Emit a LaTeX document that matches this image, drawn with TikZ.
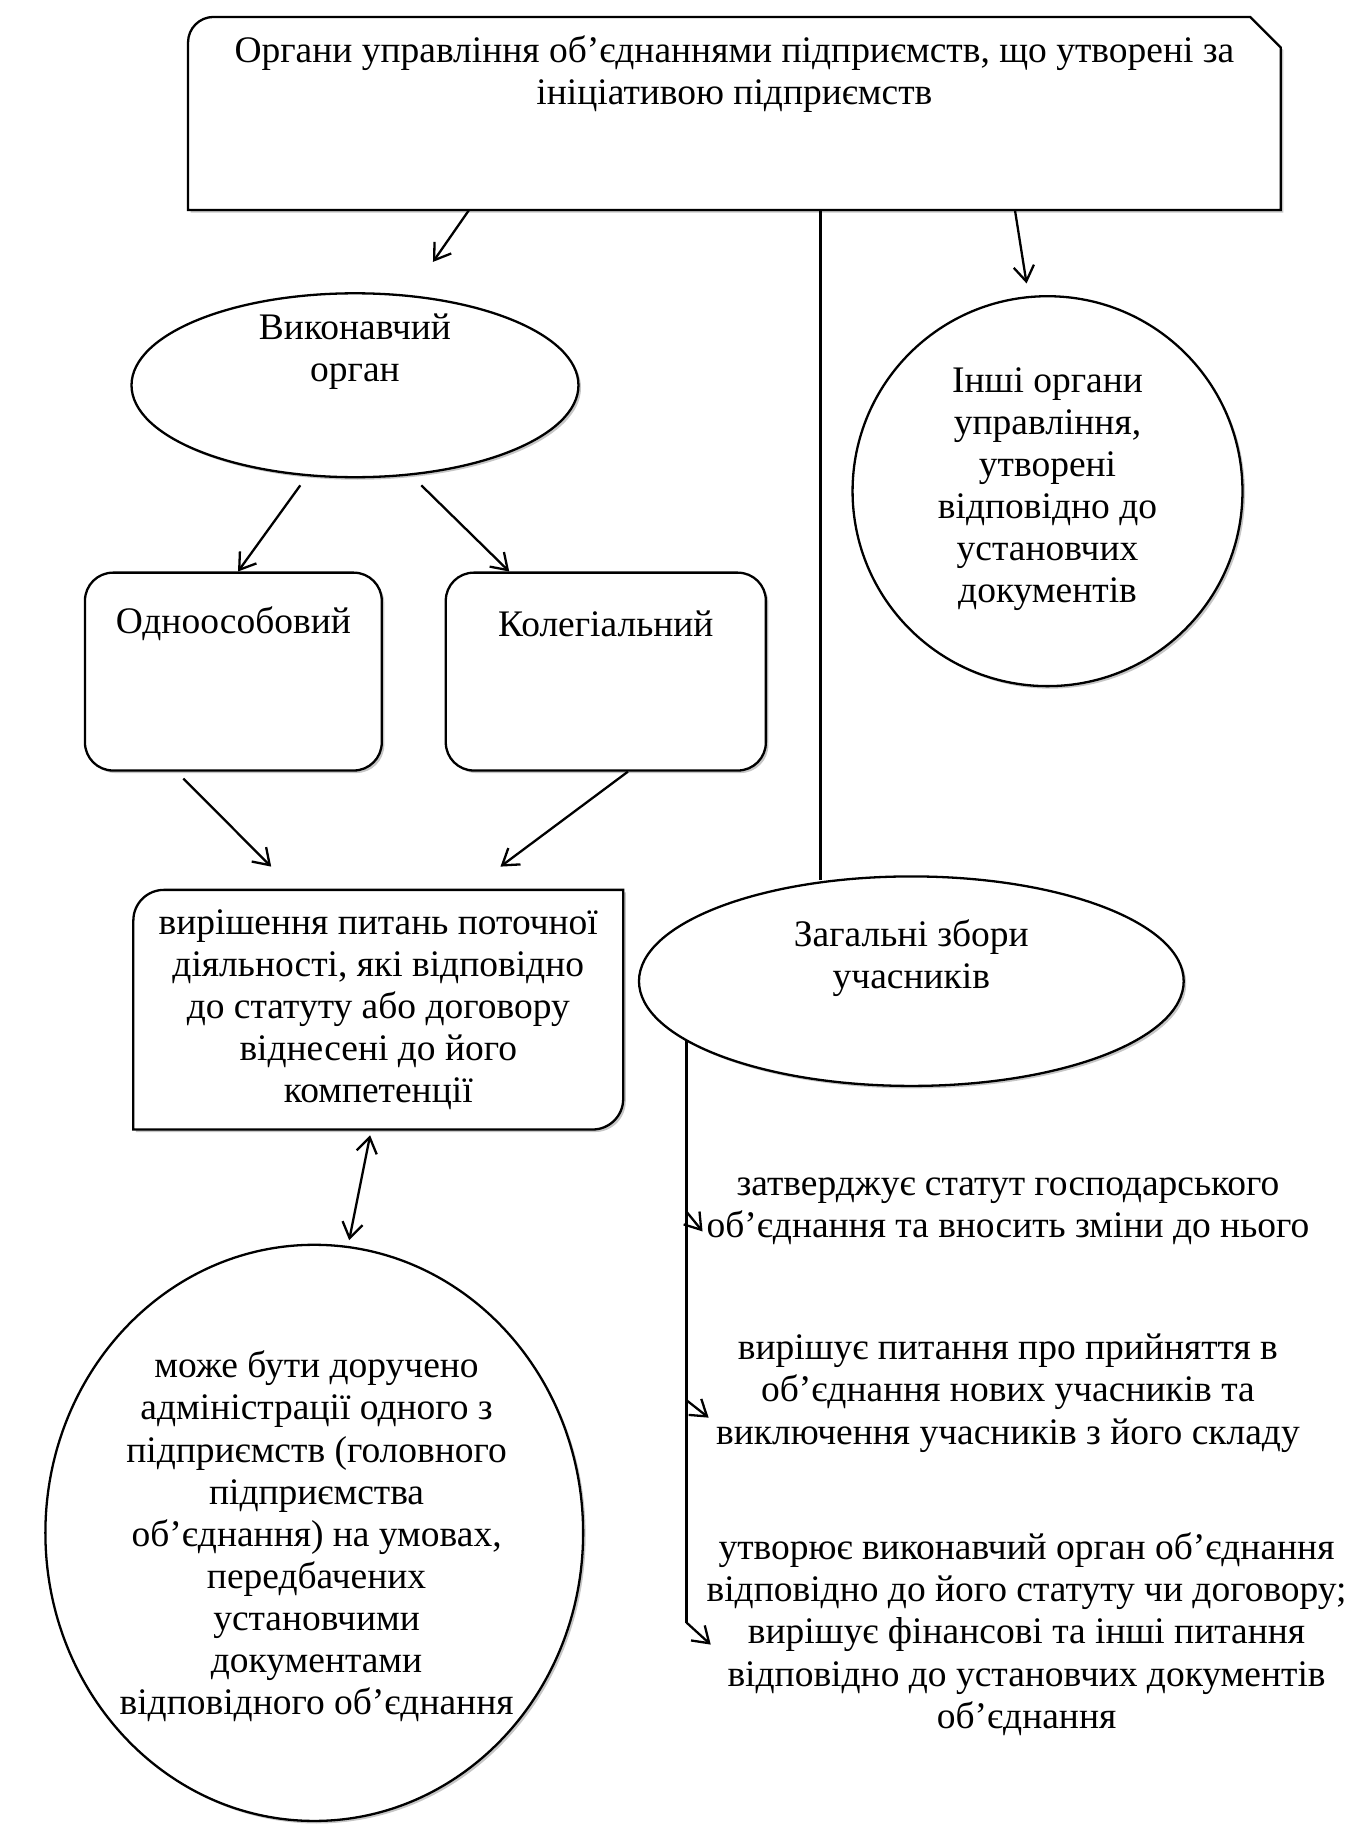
\documentclass[tikz,border=0pt]{standalone}
\usepackage{fontspec}
\setmainfont{Liberation Serif}
\usetikzlibrary{arrows.meta,positioning,calc,shapes.geometric,shadows,backgrounds}
\def\ux{0.4565pt}
\tikzset{
  softshadow/.style={drop shadow={shadow xshift=1pt, shadow yshift=-1pt, opacity=0.45}},
  framebox/.style={draw, line width=0.9pt, fill=white, softshadow},
  roundbox/.style={framebox, rounded corners=11pt, inner sep=0pt},
  ovalbox/.style={framebox, ellipse, inner sep=0pt},
  holder/.style={inner sep=0pt, align=center},
  txt/.style={inner sep=0pt, align=center},
  wire/.style={line width=0.9pt},
  arr/.style={wire, -{Straight Barb[length=6pt,width=8pt]}},
  darr/.style={wire, {Straight Barb[length=6pt,width=8pt]}-{Straight Barb[length=6pt,width=8pt]}}}

\begin{document}
\begin{tikzpicture}[x=0.4565pt, y=-0.4565pt, font=\fontsize{14.7}{16.5}\selectfont]
\useasboundingbox (0,0) rectangle (1161,1568);

% верхній блок
\node[holder, minimum width=938*\ux, minimum height=165*\ux] (org) at (631,97.5) {};
\node[txt] (orgtxt) at (631,64) {Органи управління об’єднаннями підприємств, що утворені за\\ініціативою підприємств};

% органи управління
\node[ovalbox, minimum width=384*\ux, minimum height=158*\ux] (vyk) at (305,331) {};
\node[txt] (vyktxt) at (305,302) {Виконавчий\\орган};
\node[ovalbox, minimum width=335*\ux, minimum height=335*\ux] (inshi) at (900,422) {};
\node[txt] (inshitxt) at (900,420) {Інші органи\\управління,\\утворені\\відповідно до\\установчих\\документів};

\node[roundbox, minimum width=255*\ux, minimum height=170*\ux] (odno) at (200.5,577) {};
\node[txt] (odnotxt) at (200.5,536) {Одноособовий};
\node[roundbox, minimum width=275*\ux, minimum height=170*\ux] (kol) at (520.5,577) {};
\node[txt] (koltxt) at (520.5,536) {Колегіальний};

\node[holder, minimum width=420*\ux, minimum height=205*\ux] (mid) at (325,867.5)
  {вирішення питань поточної\\діяльності, які відповідно\\до статуту або договору\\віднесені до його\\компетенції};
\node[ovalbox, minimum width=468*\ux, minimum height=180*\ux] (zgz) at (783,843) {};
\node[txt] (zgztxt) at (783,823) {Загальні збори\\учасників};

\node[ovalbox, minimum width=462*\ux, minimum height=495*\ux] (mozhe) at (270,1317) {};
\node[txt] (mozhetxt) at (272,1320) {може бути доручено\\адміністрації одного з\\підприємств (головного\\підприємства\\об’єднання) на умовах,\\передбачених\\установчими\\документами\\відповідного об’єднання};

% повноваження загальних зборів
\node[txt] (b1) at (866,1041) {затверджує статут господарського\\об’єднання та вносить зміни до нього};
\node[txt] (b2) at (866,1197) {вирішує питання про прийняття в\\об’єднання нових учасників та\\виключення учасників з його складу};
\node[txt] (b3) at (882,1404) {утворює виконавчий орган об’єднання\\відповідно до його статуту чи договору;\\вирішує фінансові та інші питання\\відповідно до установчих документів\\об’єднання};

\begin{scope}[on background layer]
  \draw[framebox] (org.south west) -- ([yshift=-10pt]org.north west)
    arc[start angle=180, end angle=90, radius=10pt]
    -- ([xshift=-12pt]org.north east) -- ([yshift=-12pt]org.north east)
    -- (org.south east) -- cycle;
  \draw[framebox] (mid.north east) -- ([yshift=12pt]mid.south east)
    arc[start angle=0, end angle=-90, radius=12pt]
    -- (mid.south west) -- ([yshift=-12pt]mid.north west)
    arc[start angle=180, end angle=90, radius=12pt] -- cycle;
\end{scope}

% зв'язки
\coordinate (oz) at ([xshift=74*\ux]org.south);
\draw[arr] ([xshift=-228*\ux]org.south) -- ([xshift=67*\ux,yshift=26*\ux]vyk.north);
\draw[wire] (oz) -- (oz |- zgz.128);
\draw[arr] ([xshift=241*\ux]org.south) -- ([xshift=-18*\ux,yshift=10*\ux]inshi.north);
\draw[arr] ([xshift=-47*\ux,yshift=-6*\ux]vyk.south) -- ([xshift=4*\ux]odno.north);
\draw[arr] ([xshift=57*\ux,yshift=-6*\ux]vyk.south) -- ([xshift=-83*\ux]kol.north);
\draw[arr] ([xshift=-43*\ux,yshift=-6*\ux]odno.south) -- ([xshift=-92*\ux,yshift=20*\ux]mid.north);
\draw[arr] ([xshift=19*\ux]kol.south) -- ([xshift=105*\ux,yshift=20*\ux]mid.north);
\draw[darr] ([xshift=-7*\ux,yshift=-5*\ux]mid.south) -- ([xshift=30*\ux,yshift=3*\ux]mozhe.north);

\coordinate (zl) at (zgz.195);
\path (zl |- b1.west) coordinate (j1);
\path (zl |- b2.west) ++(0,6) coordinate (j2);
\path (zl |- b3.west) ++(0,-10) coordinate (j3);
\draw[wire] (zl) -- (j3);
\draw[arr] (j1) -- ([xshift=-3*\ux,yshift=-17*\ux]b1.west);
\draw[arr] (j2) -- ([xshift=-6*\ux,yshift=-21*\ux]b2.west);
\draw[arr] (j3) -- ([xshift=4*\ux,yshift=-9*\ux]b3.west);
\end{tikzpicture}
\end{document}
